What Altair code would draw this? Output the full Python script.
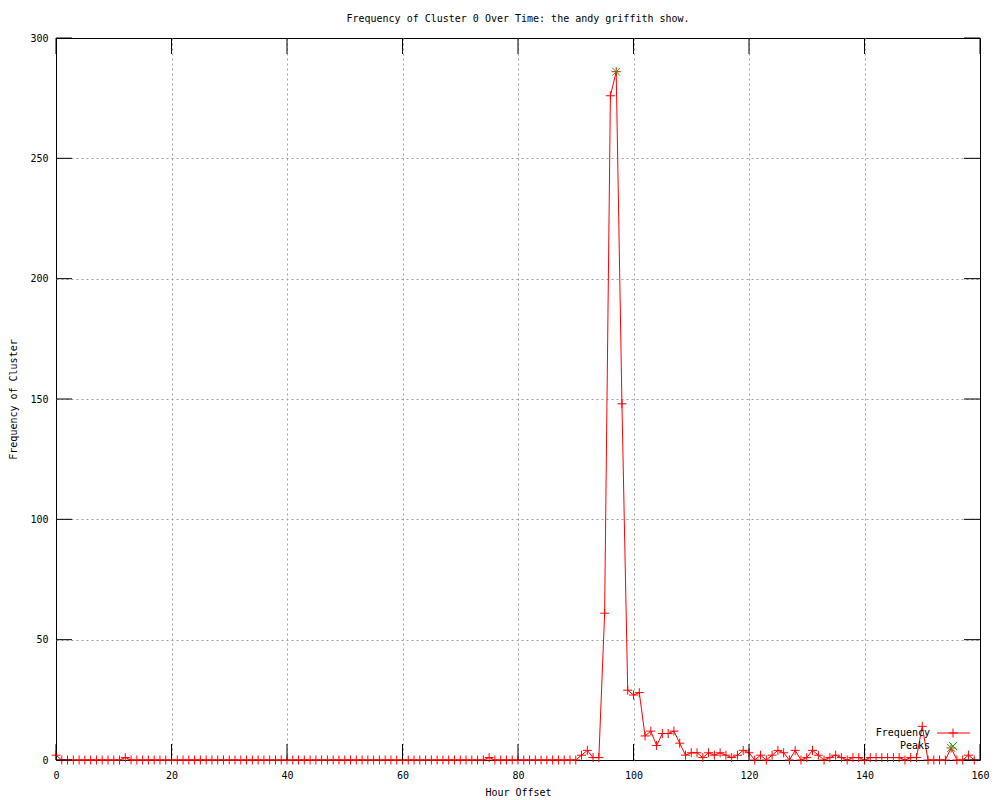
import altair as alt
import pandas as pd

hours = list(range(160))
freq = [
    2, 0, 0, 0, 0, 0, 0, 0, 0, 0,
    0, 0, 1, 0, 0, 0, 0, 0, 0, 0,
    0, 0, 0, 0, 0, 0, 0, 0, 0, 0,
    0, 0, 0, 0, 0, 0, 0, 0, 0, 0,
    0, 0, 0, 0, 0, 0, 0, 0, 0, 0,
    0, 0, 0, 0, 0, 0, 0, 0, 0, 0,
    0, 0, 0, 0, 0, 0, 0, 0, 0, 0,
    0, 0, 0, 0, 0, 1, 0, 0, 0, 0,
    0, 0, 0, 0, 0, 0, 0, 0, 0, 0,
    0, 2, 4, 1, 1, 61, 276, 286, 148, 29,
    27, 28, 10, 12, 6, 11, 11, 12, 7, 2,
    3, 3, 1, 3, 2, 3, 2, 1, 2, 4,
    3, 0, 2, 0, 2, 4, 3, 0, 4, 0,
    1, 4, 2, 0, 1, 2, 1, 0, 1, 1,
    0, 1, 1, 1, 1, 1, 1, 0, 1, 1,
    14, 0, 0, 0, 0, 5, 0, 0, 2, 0,
]
peak_hours = [97, 155]
peak_values = [286, 5]
x_ticks = [0, 20, 40, 60, 80, 100, 120, 140, 160]
y_ticks = [0, 50, 100, 150, 200, 250, 300]

W, H = 924, 722
FONT = "DejaVu Sans Mono"
RED = "#ff0000"
GREEN = "#00c000"
PLUS = "M-1,0L1,0M0,-1L0,1"
XMARK = "M-1,-1L1,1M-1,1L1,-1"

xs = alt.Scale(domain=[0, 160], nice=False, zero=False)
ys = alt.Scale(domain=[0, 300], nice=False, zero=False)

edge_x = {"condition": {"test": "datum.value == 0 || datum.value == 160", "value": 0}, "value": 1}
edge_y = {"condition": {"test": "datum.value == 0 || datum.value == 300", "value": 0}, "value": 1}

xaxis = alt.Axis(values=x_ticks, grid=True, gridDash=[2, 3], gridColor="#a0a0a0",
                 gridOpacity=edge_x, ticks=False, domain=False, labelPadding=10,
                 title="Hour Offset", titlePadding=7, labelFlush=False)
yaxis = alt.Axis(values=y_ticks, grid=True, gridDash=[2, 3], gridColor="#a0a0a0",
                 gridOpacity=edge_y, ticks=False, domain=False, labelPadding=8,
                 title="Frequency of Cluster", titlePadding=11, labelFlush=False)

df = pd.DataFrame({"hour": hours, "value": freq})
pk = pd.DataFrame({"hour": peak_hours, "value": peak_values})
xt = pd.DataFrame({"hour": x_ticks})
yt = pd.DataFrame({"value": y_ticks})
one = pd.DataFrame({"k": [0]})

X = alt.X("hour:Q", scale=xs, axis=xaxis)
Y = alt.Y("value:Q", scale=ys, axis=yaxis)

line = alt.Chart(df).mark_line(color=RED, strokeWidth=1).encode(x=X, y=Y)
pts = alt.Chart(df).mark_point(shape=PLUS, color=RED, size=81, strokeWidth=1, filled=False, opacity=1).encode(x=X, y=Y)
peaks = alt.Chart(pk).mark_point(shape=XMARK, color=GREEN, size=64, strokeWidth=1, filled=False, opacity=1).encode(x=X, y=Y)

xt_b = alt.Chart(xt).mark_rule(color="black", strokeWidth=1).encode(x=X, y=alt.value(H), y2=alt.value(H - 16))
xt_t = alt.Chart(xt).mark_rule(color="black", strokeWidth=1).encode(x=X, y=alt.value(0), y2=alt.value(16))
yt_l = alt.Chart(yt).mark_rule(color="black", strokeWidth=1).encode(y=Y, x=alt.value(0), x2=alt.value(16))
yt_r = alt.Chart(yt).mark_rule(color="black", strokeWidth=1).encode(y=Y, x=alt.value(W), x2=alt.value(W - 16))

leg_txt1 = alt.Chart(one).mark_text(font=FONT, fontSize=10, align="right", baseline="middle", color="black").encode(
    x=alt.value(874), y=alt.value(695), text=alt.value("Frequency"))
leg_txt2 = alt.Chart(one).mark_text(font=FONT, fontSize=10, align="right", baseline="middle", color="black").encode(
    x=alt.value(874), y=alt.value(708), text=alt.value("Peaks"))
leg_line = alt.Chart(one).mark_rule(color=RED, strokeWidth=1).encode(
    x=alt.value(881), x2=alt.value(914), y=alt.value(695))
leg_pt1 = alt.Chart(one).mark_point(shape=PLUS, color=RED, size=81, strokeWidth=1, filled=False, opacity=1).encode(
    x=alt.value(897), y=alt.value(695))
leg_pt2 = alt.Chart(one).mark_point(shape=XMARK, color=GREEN, size=64, strokeWidth=1, filled=False, opacity=1).encode(
    x=alt.value(897), y=alt.value(708))

chart = alt.layer(
    line, pts, peaks, xt_b, xt_t, yt_l, yt_r,
    leg_txt1, leg_txt2, leg_line, leg_pt1, leg_pt2,
).properties(
    width=W, height=H,
    title=alt.TitleParams("Frequency of Cluster 0 Over Time: the andy griffith show.",
                          font=FONT, fontSize=10, fontWeight="normal", color="black",
                          anchor="middle", offset=9),
    autosize=alt.AutoSizeParams(type="none"),
    padding={"left": 48, "top": 30, "right": 12, "bottom": 40},
    background="white",
).configure_view(
    stroke="black", strokeWidth=1
).configure_axis(
    labelFont=FONT, labelFontSize=10, labelColor="black",
    titleFont=FONT, titleFontSize=10, titleFontWeight="normal", titleColor="black",
)

chart.save("out.html", embed_options={"renderer": "svg", "actions": False})
